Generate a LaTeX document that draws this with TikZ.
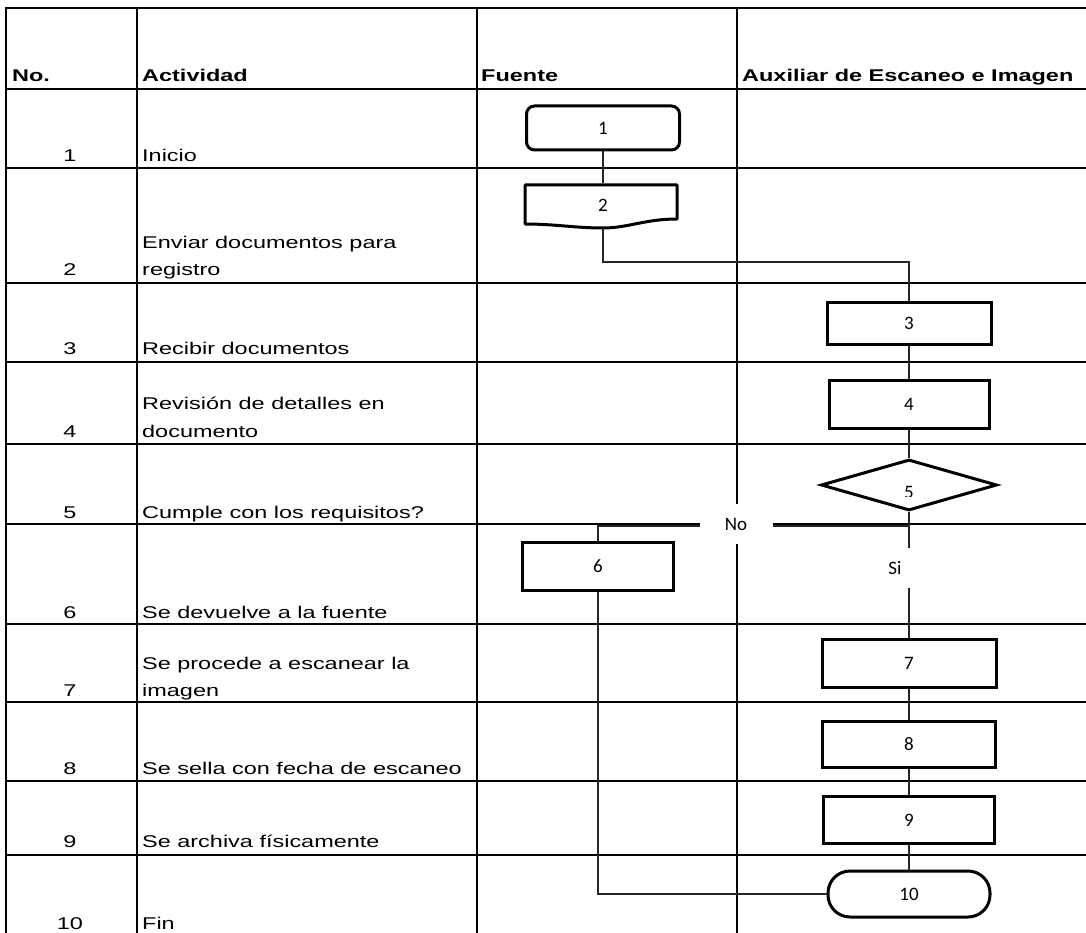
\documentclass[tikz,border=0pt]{standalone}
\usepackage{fontspec}
\setmainfont{Liberation Sans}[FakeStretch=1.38]
\newfontfamily\calib{Carlito}
\usetikzlibrary{shapes.geometric}
\begin{document}
\begin{tikzpicture}[x=1pt,y=-1pt,
  gridl/.style={line width=2.2pt, line cap=rect},
  conn/.style={line width=1.2pt, draw=black!85},
  txt/.style={inner sep=0pt, font=\fontsize{17}{20}\selectfont},
  num/.style={txt, anchor=base},
  act/.style={txt, anchor=base west},
  head/.style={inner sep=0pt, anchor=base west, font=\fontsize{17}{20}\selectfont\bfseries},
  shp/.style={draw, line width=3pt, inner sep=0pt, font=\calib\fontsize{19}{22}\selectfont},
  procbox/.style={shp, rectangle},
  lbl/.style={fill=white, inner sep=0pt, font=\calib\fontsize{19}{22}\selectfont}]
\useasboundingbox (0,0) rectangle (1086,933);
% grid
\foreach \yy in {8,89,168,283,362,444,524,624,702,781,855}
  \draw[gridl] (6,\yy) -- (1090,\yy);
\foreach \xx in {6,137,477,737}
  \draw[gridl] (\xx,8) -- (\xx,940);
% header
\node[head] (hNo) at (12,82) {No.};
\node[head] (hAct) at (142,82) {Actividad};
\node[head] (hFue) at (481,82) {Fuente};
\node[head] (hAux) at (742,82) {Auxiliar de Escaneo e Imagen};
% rows
\node[num] (n1) at (70,162) {1};
\node[act] (a1) at (142,162) {Inicio};
\node[num] (n2) at (70,276) {2};
\node[act] (a2a) at (142,249) {Enviar documentos para};
\node[act] (a2b) at (142,276) {registro};
\node[num] (n3) at (70,354) {3};
\node[act] (a3) at (142,354) {Recibir documentos};
\node[num] (n4) at (70,437) {4};
\node[act] (a4a) at (142,409) {Revisión de detalles en};
\node[act] (a4b) at (142,437) {documento};
\node[num] (n5) at (70,518) {5};
\node[act] (a5) at (142,518) {Cumple con los requisitos?};
\node[num] (n6) at (70,618) {6};
\node[act] (a6) at (142,618) {Se devuelve a la fuente};
\node[num] (n7) at (70,696) {7};
\node[act] (a7a) at (142,669) {Se procede a escanear la};
\node[act] (a7b) at (142,696) {imagen};
\node[num] (n8) at (70,774) {8};
\node[act] (a8) at (142,774) {Se sella con fecha de escaneo};
\node[num] (n9) at (70,847) {9};
\node[act] (a9) at (142,847) {Se archiva físicamente};
\node[num] (n10) at (70,929) {10};
\node[act] (a10) at (142,929) {Fin};
% shapes
\node[procbox, rounded corners=8pt, minimum width=153, minimum height=44] (s1) at (603,128) {1};
\node[shp, draw=none, minimum width=152, minimum height=40] (s2) at (603,205) {2};
\draw[line width=3pt, line join=round] (525,185) -- (677,185) -- (677,219)
  .. controls (645,219) and (628,228) .. (603,228)
  .. controls (575,228) and (555,224) .. (525,224) -- cycle;
\coordinate (s2b) at (603,228);
\node[procbox, minimum width=164, minimum height=42] (s3) at (909,323) {3};
\node[procbox, minimum width=160, minimum height=48] (s4) at (909,404) {4};
\node[shp, diamond, minimum width=176, minimum height=51] (s5) at (909,485) {};
\begin{scope}
  \clip (870,470) rectangle (950,496);
  \node[inner sep=0pt, font=\calib\fontsize{19}{22}\selectfont] (t5) at (909,492) {5};
\end{scope}
\node[procbox, minimum width=151, minimum height=48] (s6) at (598,566) {6};
\node[procbox, minimum width=174, minimum height=48] (s7) at (909,663) {7};
\node[procbox, minimum width=173, minimum height=46] (s8) at (909,744) {8};
\node[procbox, minimum width=171, minimum height=47] (s9) at (909,820) {9};
\node[procbox, rounded corners=22pt, minimum width=162, minimum height=46] (s10) at (909,894) {10};
% connectors
\draw[conn] (s1.south) -- (s2.north);
\draw[conn] (s2b) -- ++(0,34) -| (s3.north);
\draw[conn] (s3) -- (s4);
\draw[conn] (s4) -- (s5);
\draw[conn] (s5.south) -- ++(0,14) -| (s6.north);
\draw[conn] (s5.south) -- (s7.north);
\draw[conn] (s6.south) |- (s10.west);
\draw[conn] (s7) -- (s8);
\draw[conn] (s8) -- (s9);
\draw[conn] (s9) -- (s10);
% labels
\node[lbl, minimum width=73, minimum height=40] (lNo) at (736,524) {No};
\node[lbl, minimum width=40, minimum height=40] (lSi) at (895,568) {Si};
\end{tikzpicture}
\end{document}
